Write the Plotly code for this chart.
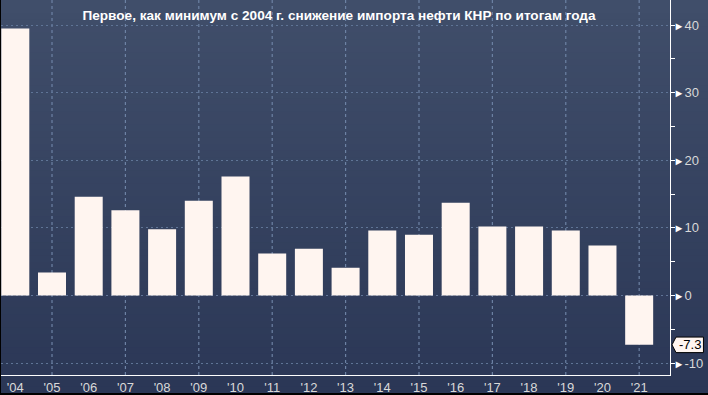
import plotly.graph_objects as go

# Data
years = ["'04", "'05", "'06", "'07", "'08", "'09", "'10", "'11", "'12",
         "'13", "'14", "'15", "'16", "'17", "'18", "'19", "'20", "'21"]
values = [39.5, 3.4, 14.6, 12.6, 9.8, 14.0, 17.6, 6.2, 6.9,
          4.1, 9.6, 9.0, 13.7, 10.2, 10.2, 9.6, 7.4, -7.3]
y_ticks = [-10, 0, 10, 20, 30, 40]
title_text = "Первое, как минимум с 2004 г. снижение импорта нефти КНР по итогам года"

FONT = "Liberation Sans Narrow, Arial Narrow, Liberation Sans, sans-serif"
GRID = "#5f7496"
VGRID = "#6d82a4"
XRANGE = [-0.39, 17.84]

pos = list(range(len(years)))  # category slots on the x axis

fig = go.Figure()
fig.add_trace(go.Bar(
    x=pos, y=values, hovertext=years,
    marker=dict(color="#fff5f0", line=dict(width=0)),
    hoverinfo="text+y",
))

shapes = []
# background gradient (styling)
top = (64, 78, 106)
bot = (43, 55, 86)
n = 60
y_lo, y_hi = -18 / 375, 1.0
for i in range(n):
    t = i / (n - 1)
    c = tuple(round(bot[k] + (top[k] - bot[k]) * t) for k in range(3))
    y0 = y_lo + (y_hi - y_lo) * i / n
    y1 = y_lo + (y_hi - y_lo) * (i + 1) / n + 0.002
    shapes.append(dict(type="rect", xref="paper", yref="paper",
                       x0=0, x1=1.06, y0=y0, y1=y1,
                       fillcolor="rgb(%d,%d,%d)" % c, line=dict(width=0),
                       layer="below"))

# vertical dotted grid lines at every other category (drawn beneath bars)
for p in pos[1::2]:
    shapes.append(dict(type="line", xref="x", yref="paper",
                       x0=p, x1=p, y0=0, y1=1,
                       line=dict(color=VGRID, width=1.2, dash="dot"),
                       layer="between"))

# callout for last value
last = values[-1]
h = 1.15
shapes.append(dict(type="path", xref="paper", yref="y",
                   path="M 1.003,%f L 1.009,%f L 1.050,%f L 1.050,%f L 1.009,%f Z" % (
                       last, last + h, last + h, last - h, last - h),
                   fillcolor="#fff5f0", line=dict(color="#000000", width=1),
                   layer="above"))

tri = "<span style='font-size:11px;color:#ffffff'>►</span>"
fig.update_layout(
    width=708, height=395,
    margin=dict(l=1, r=38, t=0, b=20, autoexpand=False),
    paper_bgcolor="#000000",
    plot_bgcolor="rgba(0,0,0,0)",
    showlegend=False,
    bargap=0.237,
    shapes=shapes,
    title=dict(text="<b>" + title_text + "</b>", x=339 / 708, y=1 - 15 / 395,
               xref="container", yref="container", xanchor="center", yanchor="middle",
               font=dict(family=FONT, size=13.6, color="#ffffff")),
    xaxis=dict(
        type="linear", range=XRANGE,
        tickmode="array", tickvals=pos, ticktext=years,
        showgrid=False, zeroline=False,
        showline=True, linecolor="#ffffff", linewidth=1,
        ticks="", tickfont=dict(family=FONT, size=13, color="#d9d9d9"),
        fixedrange=True,
    ),
    yaxis=dict(
        side="right", range=[-11.76, 43.7],
        tickmode="array", tickvals=y_ticks,
        ticktext=[tri + str(v) for v in y_ticks],
        ticks="", ticklabelstandoff=0,
        showgrid=True, gridcolor=GRID, griddash="2px,3px", gridwidth=1,
        zeroline=False,
        showline=True, linecolor="#ffffff", linewidth=1,
        tickfont=dict(family=FONT, size=13, color="#d9d9d9"),
        minor=dict(dtick=5, tick0=0, ticks="outside", ticklen=4,
                   tickcolor="#ffffff", tickwidth=1, showgrid=False),
        automargin=False,
        fixedrange=True,
    ),
    annotations=[dict(xref="paper", yref="y", x=1.0295, y=last,
                      text="%.1f" % last, showarrow=False,
                      xanchor="center", yanchor="middle",
                      font=dict(family=FONT, size=13, color="#000000"))],
)

fig.write_html("out.html", config={"displayModeBar": False},
               post_script="document.body.style.margin='0';")
